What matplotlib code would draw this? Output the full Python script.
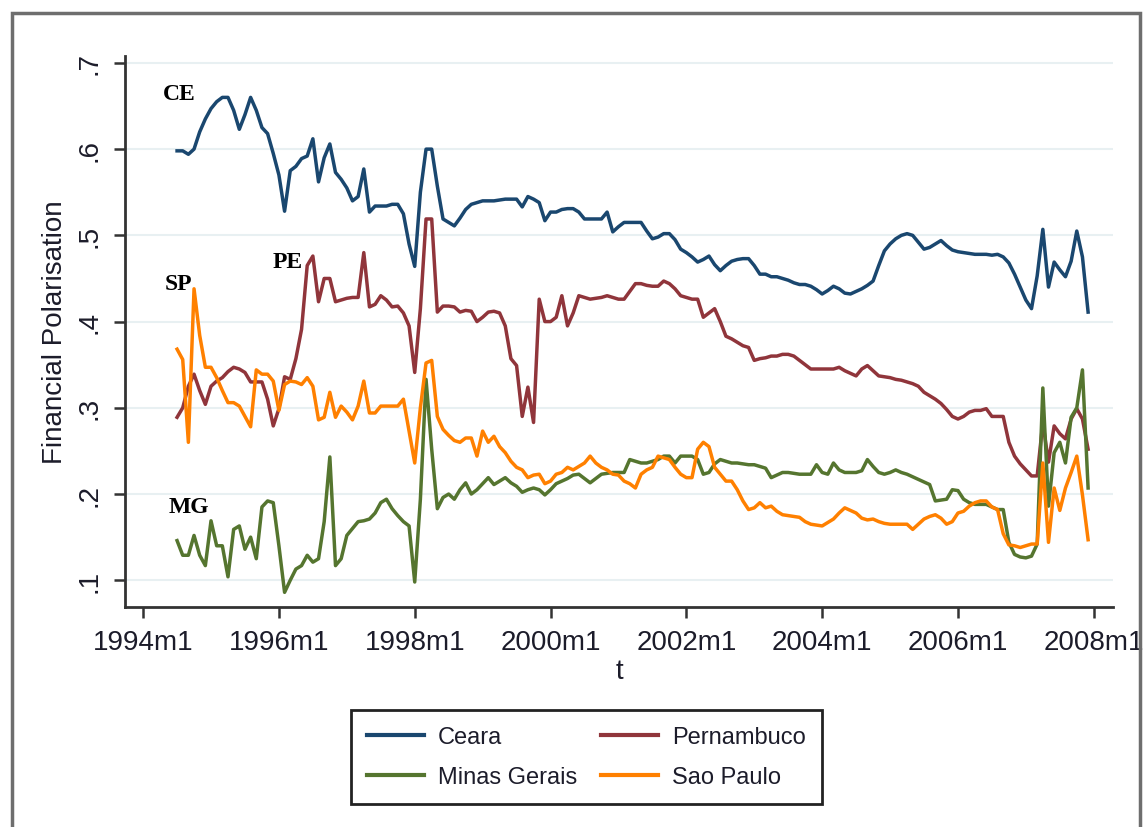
import numpy as np
import matplotlib.pyplot as plt
from matplotlib.patches import Rectangle

# monthly series, 1994m7 .. 2007m12
months = np.arange(6, 168)  # months since 1994m1

ceara = [
    0.598, 0.598, 0.594, 0.600, 0.620, 0.635,
    0.647, 0.655, 0.660, 0.660, 0.645, 0.623, 0.640, 0.660, 0.645, 0.625, 0.618, 0.595,
    0.570, 0.528, 0.575, 0.580, 0.589, 0.592, 0.612, 0.562, 0.590, 0.606, 0.573, 0.565,
    0.555, 0.540, 0.545, 0.577, 0.527, 0.534, 0.534, 0.534, 0.536, 0.536, 0.525, 0.490,
    0.464, 0.550, 0.600, 0.600, 0.557, 0.519, 0.515, 0.511, 0.520, 0.530, 0.536, 0.538,
    0.540, 0.540, 0.540, 0.541, 0.542, 0.542, 0.542, 0.533, 0.545, 0.542, 0.538, 0.517,
    0.527, 0.527, 0.530, 0.531, 0.531, 0.527, 0.519, 0.519, 0.519, 0.519, 0.527, 0.504,
    0.510, 0.515, 0.515, 0.515, 0.515, 0.505, 0.496, 0.498, 0.502, 0.502, 0.495, 0.484,
    0.480, 0.475, 0.469, 0.472, 0.476, 0.466, 0.459, 0.465, 0.470, 0.472, 0.473, 0.473,
    0.465, 0.455, 0.455, 0.452, 0.452, 0.450, 0.448, 0.445, 0.443, 0.443, 0.441, 0.437,
    0.432, 0.436, 0.441, 0.438, 0.433, 0.432, 0.435, 0.438, 0.442, 0.447, 0.465, 0.482,
    0.490, 0.496, 0.500, 0.502, 0.500, 0.492, 0.484, 0.486, 0.490, 0.494, 0.488, 0.483,
    0.481, 0.480, 0.479, 0.478, 0.478, 0.478, 0.477, 0.478, 0.475, 0.468, 0.455, 0.440,
    0.425, 0.415, 0.453, 0.507, 0.440, 0.469, 0.460, 0.452, 0.470, 0.505, 0.475, 0.411,
]

pernambuco = [
    0.289, 0.300, 0.325, 0.339, 0.320, 0.304,
    0.325, 0.331, 0.335, 0.342, 0.347, 0.345, 0.341, 0.330, 0.330, 0.330, 0.310, 0.279,
    0.299, 0.336, 0.333, 0.357, 0.391, 0.465, 0.476, 0.423, 0.450, 0.450, 0.423, 0.425,
    0.427, 0.428, 0.428, 0.480, 0.417, 0.420, 0.430, 0.425, 0.417, 0.418, 0.410, 0.395,
    0.341, 0.415, 0.519, 0.519, 0.411, 0.418, 0.418, 0.417, 0.411, 0.413, 0.412, 0.400,
    0.405, 0.411, 0.412, 0.410, 0.395, 0.357, 0.349, 0.290, 0.324, 0.283, 0.426, 0.400,
    0.400, 0.405, 0.430, 0.395, 0.410, 0.430, 0.428, 0.426, 0.427, 0.428, 0.430, 0.428,
    0.426, 0.426, 0.435, 0.444, 0.444, 0.442, 0.441, 0.441, 0.447, 0.444, 0.438, 0.430,
    0.428, 0.426, 0.426, 0.405, 0.410, 0.415, 0.400, 0.383, 0.380, 0.376, 0.372, 0.370,
    0.355, 0.357, 0.358, 0.360, 0.360, 0.362, 0.362, 0.360, 0.355, 0.350, 0.345, 0.345,
    0.345, 0.345, 0.345, 0.347, 0.343, 0.340, 0.337, 0.345, 0.349, 0.343, 0.337, 0.336,
    0.335, 0.333, 0.332, 0.330, 0.328, 0.325, 0.318, 0.314, 0.310, 0.305, 0.298, 0.290,
    0.287, 0.290, 0.295, 0.297, 0.297, 0.299, 0.290, 0.290, 0.290, 0.260, 0.244, 0.235,
    0.228, 0.221, 0.221, 0.283, 0.237, 0.279, 0.270, 0.264, 0.287, 0.299, 0.287, 0.252,
]

minas_gerais = [
    0.146, 0.129, 0.129, 0.152, 0.129, 0.117,
    0.169, 0.140, 0.140, 0.104, 0.159, 0.163, 0.136, 0.150, 0.125, 0.185, 0.192, 0.190,
    0.140, 0.086, 0.100, 0.113, 0.117, 0.129, 0.121, 0.125, 0.168, 0.243, 0.117, 0.125,
    0.152, 0.160, 0.168, 0.169, 0.171, 0.178, 0.190, 0.194, 0.183, 0.175, 0.168, 0.163,
    0.098, 0.194, 0.333, 0.252, 0.183, 0.196, 0.200, 0.194, 0.205, 0.213, 0.200, 0.205,
    0.212, 0.219, 0.211, 0.215, 0.219, 0.213, 0.209, 0.202, 0.205, 0.207, 0.205, 0.199,
    0.205, 0.212, 0.215, 0.218, 0.222, 0.223, 0.218, 0.213, 0.218, 0.223, 0.224, 0.225,
    0.225, 0.225, 0.240, 0.238, 0.236, 0.236, 0.238, 0.240, 0.244, 0.244, 0.236, 0.244,
    0.244, 0.244, 0.240, 0.223, 0.225, 0.235, 0.240, 0.238, 0.236, 0.236, 0.235, 0.234,
    0.234, 0.232, 0.230, 0.219, 0.222, 0.225, 0.225, 0.224, 0.223, 0.223, 0.223, 0.234,
    0.225, 0.223, 0.236, 0.228, 0.225, 0.225, 0.225, 0.227, 0.240, 0.232, 0.225, 0.223,
    0.225, 0.228, 0.225, 0.223, 0.220, 0.217, 0.214, 0.211, 0.192, 0.193, 0.194, 0.205,
    0.204, 0.194, 0.190, 0.188, 0.188, 0.188, 0.185, 0.182, 0.182, 0.144, 0.130, 0.127,
    0.126, 0.128, 0.142, 0.323, 0.186, 0.248, 0.260, 0.236, 0.289, 0.300, 0.344, 0.207,
]

sao_paulo = [
    0.368, 0.356, 0.260, 0.438, 0.384, 0.347,
    0.347, 0.335, 0.320, 0.306, 0.306, 0.302, 0.290, 0.278, 0.344, 0.339, 0.339, 0.331,
    0.297, 0.327, 0.331, 0.330, 0.327, 0.335, 0.325, 0.286, 0.289, 0.318, 0.289, 0.302,
    0.295, 0.286, 0.302, 0.331, 0.294, 0.294, 0.302, 0.302, 0.302, 0.302, 0.310, 0.273,
    0.236, 0.300, 0.352, 0.355, 0.290, 0.275, 0.268, 0.262, 0.260, 0.265, 0.265, 0.244,
    0.273, 0.260, 0.267, 0.255, 0.248, 0.238, 0.231, 0.228, 0.219, 0.222, 0.223, 0.212,
    0.215, 0.223, 0.225, 0.231, 0.228, 0.232, 0.236, 0.244, 0.236, 0.231, 0.228, 0.223,
    0.222, 0.215, 0.212, 0.207, 0.223, 0.228, 0.231, 0.244, 0.242, 0.240, 0.231, 0.223,
    0.219, 0.219, 0.252, 0.260, 0.255, 0.231, 0.223, 0.215, 0.215, 0.205, 0.192, 0.182,
    0.184, 0.190, 0.184, 0.186, 0.180, 0.176, 0.175, 0.174, 0.173, 0.168, 0.165, 0.164,
    0.163, 0.167, 0.171, 0.178, 0.184, 0.181, 0.178, 0.172, 0.170, 0.171, 0.168, 0.166,
    0.165, 0.165, 0.165, 0.165, 0.159, 0.165, 0.171, 0.174, 0.176, 0.172, 0.165, 0.168,
    0.178, 0.180, 0.186, 0.190, 0.192, 0.192, 0.185, 0.182, 0.154, 0.141, 0.140, 0.138,
    0.140, 0.142, 0.142, 0.236, 0.144, 0.207, 0.181, 0.207, 0.225, 0.244, 0.199, 0.147,
]

tick_months = np.arange(0, 169, 24)
tick_labels = ['1994m1', '1996m1', '1998m1', '2000m1', '2002m1', '2004m1', '2006m1', '2008m1']
y_ticks = [0.1, 0.2, 0.3, 0.4, 0.5, 0.6, 0.7]
y_labels = ['.1', '.2', '.3', '.4', '.5', '.6', '.7']

plt.rcParams['font.family'] = ['Liberation Sans', 'DejaVu Sans']
txt_col = '#1c1c2a'

fig = plt.figure(figsize=(11.44, 8.28), dpi=100)
ax = fig.add_axes([125 / 1144, 1 - 608 / 828, (1113 - 125) / 1144, (608 - 57) / 828])

# outer frame
fig.patches.append(Rectangle((12 / 1144, -0.05), (1140 - 12) / 1144, 1 - 14 / 828 + 0.05,
                             transform=fig.transFigure, fill=False,
                             edgecolor='#6e6e6e', linewidth=2.5))

lw = 2.5
l1, = ax.plot(months, ceara, color='#1a476f', lw=lw)
l2, = ax.plot(months, pernambuco, color='#90353b', lw=lw)
l3, = ax.plot(months, minas_gerais, color='#55752f', lw=lw)
l4, = ax.plot(months, sao_paulo, color='#ff8000', lw=lw)

ax.set_xlim(-3.2, 171.4)
ax.set_ylim(0.069, 0.708)
ax.set_xticks(tick_months)
ax.set_xticklabels(tick_labels, fontsize=20, color=txt_col)
ax.set_yticks(y_ticks)
ax.set_yticklabels(y_labels, fontsize=20, rotation=90, va='center', color=txt_col)
ax.tick_params(axis='both', direction='out', length=8, width=1.8, color='#333333')
ax.tick_params(axis='x', pad=8)
ax.tick_params(axis='y', pad=8)

ax.grid(axis='y', color='#e8f0f2', lw=1.5)
ax.set_axisbelow(True)
for s in ['top', 'right']:
    ax.spines[s].set_visible(False)
for s in ['left', 'bottom']:
    ax.spines[s].set_color('#333333')
    ax.spines[s].set_linewidth(2)

ax.set_xlabel('t', fontsize=20, labelpad=2, color=txt_col)
ax.set_ylabel('Financial Polarisation', fontsize=20, labelpad=6, color=txt_col)

lab_font = dict(family=['Liberation Serif', 'DejaVu Serif'], fontweight='bold', fontsize=17,
                ha='center', va='center', color='black')
ax.text(6.4, 0.664, 'CE', **lab_font)
ax.text(25.6, 0.470, 'PE', **lab_font)
ax.text(6.2, 0.444, 'SP', **lab_font)
ax.text(8.0, 0.185, 'MG', **lab_font)

leg = fig.legend([l1, l3, l2, l4], ['Ceara', 'Minas Gerais', 'Pernambuco', 'Sao Paulo'],
                 ncol=2, loc='center', bbox_to_anchor=(0.5127, 0.0845), fontsize=17,
                 frameon=True, fancybox=False, edgecolor='#222222', framealpha=1,
                 handlelength=2.4, columnspacing=1.0, handletextpad=0.6,
                 labelspacing=0.75, borderpad=0.7, labelcolor=txt_col)
leg.get_frame().set_linewidth(2)
for h in leg.legend_handles:
    h.set_linewidth(3)

fig.savefig('out.png', dpi=100)
